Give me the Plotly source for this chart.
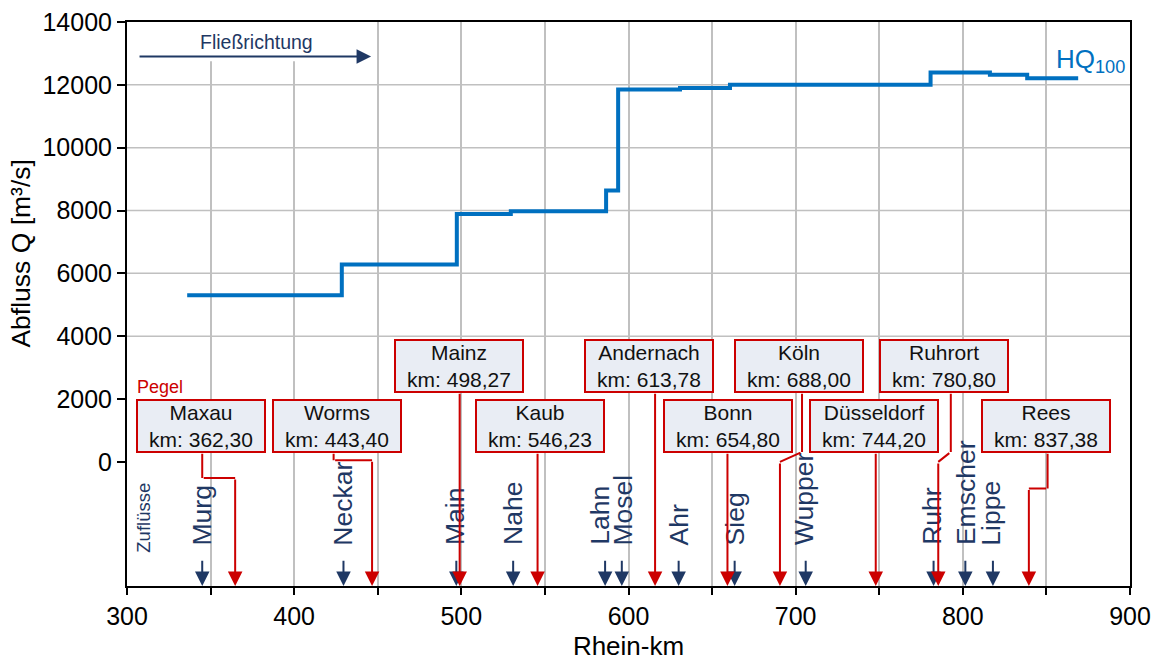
import plotly.graph_objects as go

# ---------------- data ----------------
# HQ100 step line (Rhein-km where each level starts, discharge in m3/s)
hq_km = [336, 428.5, 497.3, 529.6, 586.6, 593.8, 630.8, 660.7, 780.7, 816.2, 838.5, 869]
hq_q = [5300, 6280, 7890, 7980, 8640, 11850, 11900, 12000, 12390, 12320, 12210, 12210]

# tributaries (Zuflüsse) and their mouth positions
trib_names = ["Murg", "Neckar", "Main", "Nahe", "Lahn", "Mosel", "Ahr", "Sieg",
              "Wupper", "Ruhr", "Emscher", "Lippe"]
trib_km = [345, 429.5, 497, 531, 586, 596, 630, 663.5, 706, 782.5, 801.5, 818]

# gauges (Pegel)
gauge_names = ["Maxau", "Worms", "Mainz", "Kaub", "Andernach", "Bonn", "Köln",
               "Düsseldorf", "Ruhrort", "Rees"]
gauge_km = [362.30, 443.40, 498.27, 546.23, 613.78, 654.80, 688.00, 744.20, 780.80, 837.38]
gauge_arrow_km = [364.7, 446.6, 499.0, 545.6, 615.9, 659.2, 690.6, 747.9, 785.3, 839.5]

x_ticks = [300, 400, 500, 600, 700, 800, 900]
y_ticks = [0, 2000, 4000, 6000, 8000, 10000, 12000, 14000]
y_tick_labels = ["0", "2000", "4000", "6000", "8000", "10000", "12000", "14000"]
y_grid = [4000, 6000, 8000, 10000, 12000]

# ---------------- layout helpers (positions / styles) ----------------
Y_MIN, Y_MAX = -3950, 14000
box_center_km = [344.5, 425.8, 498.4, 546.8, 612.3, 659.8, 702.2, 746.9, 788.5, 849.7]
box_row = [2, 2, 1, 2, 1, 2, 1, 2, 1, 2]
row_center = {1: 3047, 2: 1150}
row_bottom = {1: 2220, 2: 310}
line_start_km = [345, 423.6, None, None, None, None, 703.8, None, 792.8, 850.7]
bend_hi = [-509, 54, None, None, None, None, 318, None, 318, -847]
bend_lo = [-509, 54, None, None, None, None, 0, None, 0, -847]
trib_shift = [0, 0, -2, 0, -5, 1, 0, 0, -1, -1, 0, -2]

NAVY = "#1f3864"
RED = "#cc0000"
BLUE = "#0070c0"
GRID = "#c0c0c0"
FONT = "Liberation Sans, Arial, sans-serif"
HEAD = 1.45

fig = go.Figure()

fig.add_trace(go.Scatter(x=hq_km, y=hq_q, mode="lines", line=dict(color=BLUE, width=4, shape="hv"),
                         hoverinfo="skip", showlegend=False))

shapes = []
for g in y_grid:
    shapes.append(dict(type="line", xref="paper", x0=0, x1=1, yref="y", y0=g, y1=g,
                       line=dict(color=GRID, width=1.5), layer="below"))
# white area behind "Fließrichtung"
shapes.append(dict(type="rect", xref="x", yref="y", x0=303, x1=446, y0=12750, y1=14000,
                   fillcolor="white", line=dict(width=0), layer="between"))

ann = []
# y-axis title (placed as in the reference, above the plot-area centre)
ann.append(dict(x=-0.106, y=6620, xref="paper", yref="y", xanchor="center", yanchor="middle",
                text="Abfluss Q [m³/s]", showarrow=False,
                textangle=-90, font=dict(family=FONT, size=26.5, color="black")))
# Fließrichtung
ann.append(dict(x=377.7, y=13360, xref="x", yref="y", text="Fließrichtung", showarrow=False,
                font=dict(family=FONT, size=19.5, color=NAVY)))
ann.append(dict(x=446, y=12900, ax=306.6, ay=12900, xref="x", yref="y", axref="x", ayref="y",
                text="", showarrow=True, arrowhead=2, arrowsize=HEAD, arrowwidth=2, arrowcolor=NAVY,
                font=dict(size=1)))
# HQ100 label
ann.append(dict(x=854.5, y=12770, xref="x", yref="y", xanchor="left", yanchor="middle",
                text="HQ<sub>100</sub>", showarrow=False, font=dict(family=FONT, size=26, color=BLUE)))
# Pegel / Zuflüsse labels
ann.append(dict(x=320, y=2390, xref="x", yref="y", text="Pegel", showarrow=False,
                font=dict(family=FONT, size=18, color=RED)))
ann.append(dict(x=309.9, y=-1790, xref="x", yref="y", text="Zuflüsse", showarrow=False, textangle=-90,
                font=dict(family=FONT, size=18.5, color=NAVY)))

# tributaries
for name, km, sh in zip(trib_names, trib_km, trib_shift):
    ann.append(dict(x=km, y=-2716, xref="x", yref="y", text=name, showarrow=False, textangle=-90,
                    xanchor="center", yanchor="bottom", xshift=sh,
                    font=dict(family=FONT, size=26.5, color=NAVY)))
    ann.append(dict(x=km, y=Y_MIN, ax=km, ay=-3098, xref="x", yref="y", axref="x", ayref="y",
                    text="", showarrow=True, arrowhead=2, arrowsize=HEAD, arrowwidth=2,
                    arrowcolor=NAVY, font=dict(size=1)))

# gauges
for i, name in enumerate(gauge_names):
    row = box_row[i]
    ann.append(dict(x=box_center_km[i], y=row_center[row], xref="x", yref="y",
                    text=f"{name}<br>km: {gauge_km[i]:.2f}".replace(".", ","), showarrow=False,
                    width=124, height=48, bgcolor="#e9edf4", bordercolor=RED, borderwidth=2,
                    borderpad=1, align="center", valign="middle",
                    font=dict(family=FONT, size=21, color="#111111")))
    xa = gauge_arrow_km[i]
    y0 = row_bottom[row]
    if line_start_km[i] is None:
        pts = [(xa, y0)]
    else:
        xs = line_start_km[i]
        pts = [(xs, y0), (xs, bend_hi[i]), (xa, bend_lo[i])]
    for (px0, py0), (px1, py1) in zip(pts[:-1], pts[1:]):
        ann.append(dict(x=px1, y=py1, ax=px0, ay=py0, xref="x", yref="y", axref="x", ayref="y",
                        text="", showarrow=True, arrowhead=0, arrowwidth=2, arrowcolor=RED,
                        font=dict(size=1)))
    lx, ly = pts[-1]
    ann.append(dict(x=xa, y=Y_MIN, ax=lx, ay=ly, xref="x", yref="y", axref="x", ayref="y",
                    text="", showarrow=True, arrowhead=2, arrowsize=HEAD, arrowwidth=2,
                    arrowcolor=RED, font=dict(size=1)))

fig.update_layout(
    width=1157, height=661,
    margin=dict(l=126.5, r=27, t=22, b=75),
    paper_bgcolor="white", plot_bgcolor="white",
    font=dict(family=FONT, size=25, color="black"),
    shapes=shapes, annotations=ann,
    showlegend=False,
)
fig.update_xaxes(
    range=[300, 900], tickvals=x_ticks, ticks="outside", ticklen=7, tickwidth=2, tickcolor="black",
    showgrid=True, gridcolor=GRID, gridwidth=1.5, automargin=False,
    minor=dict(tick0=300, dtick=50, ticks="outside", ticklen=7, tickwidth=2, tickcolor="black",
               showgrid=True, gridcolor=GRID, gridwidth=1.5),
    showline=True, linecolor="black", linewidth=2, mirror=True, zeroline=False,
    tickfont=dict(family=FONT, size=25),
    title=dict(text="Rhein-km", font=dict(family=FONT, size=26), standoff=8),
)
fig.update_yaxes(
    range=[Y_MIN, Y_MAX], tickvals=y_ticks, ticktext=y_tick_labels, ticks="outside", ticklen=8,
    tickwidth=2, tickcolor="black", automargin=False,
    showgrid=False, zeroline=False, showline=True, linecolor="black", linewidth=2, mirror=True,
    tickfont=dict(family=FONT, size=25),
)

fig.write_html("out.html")
